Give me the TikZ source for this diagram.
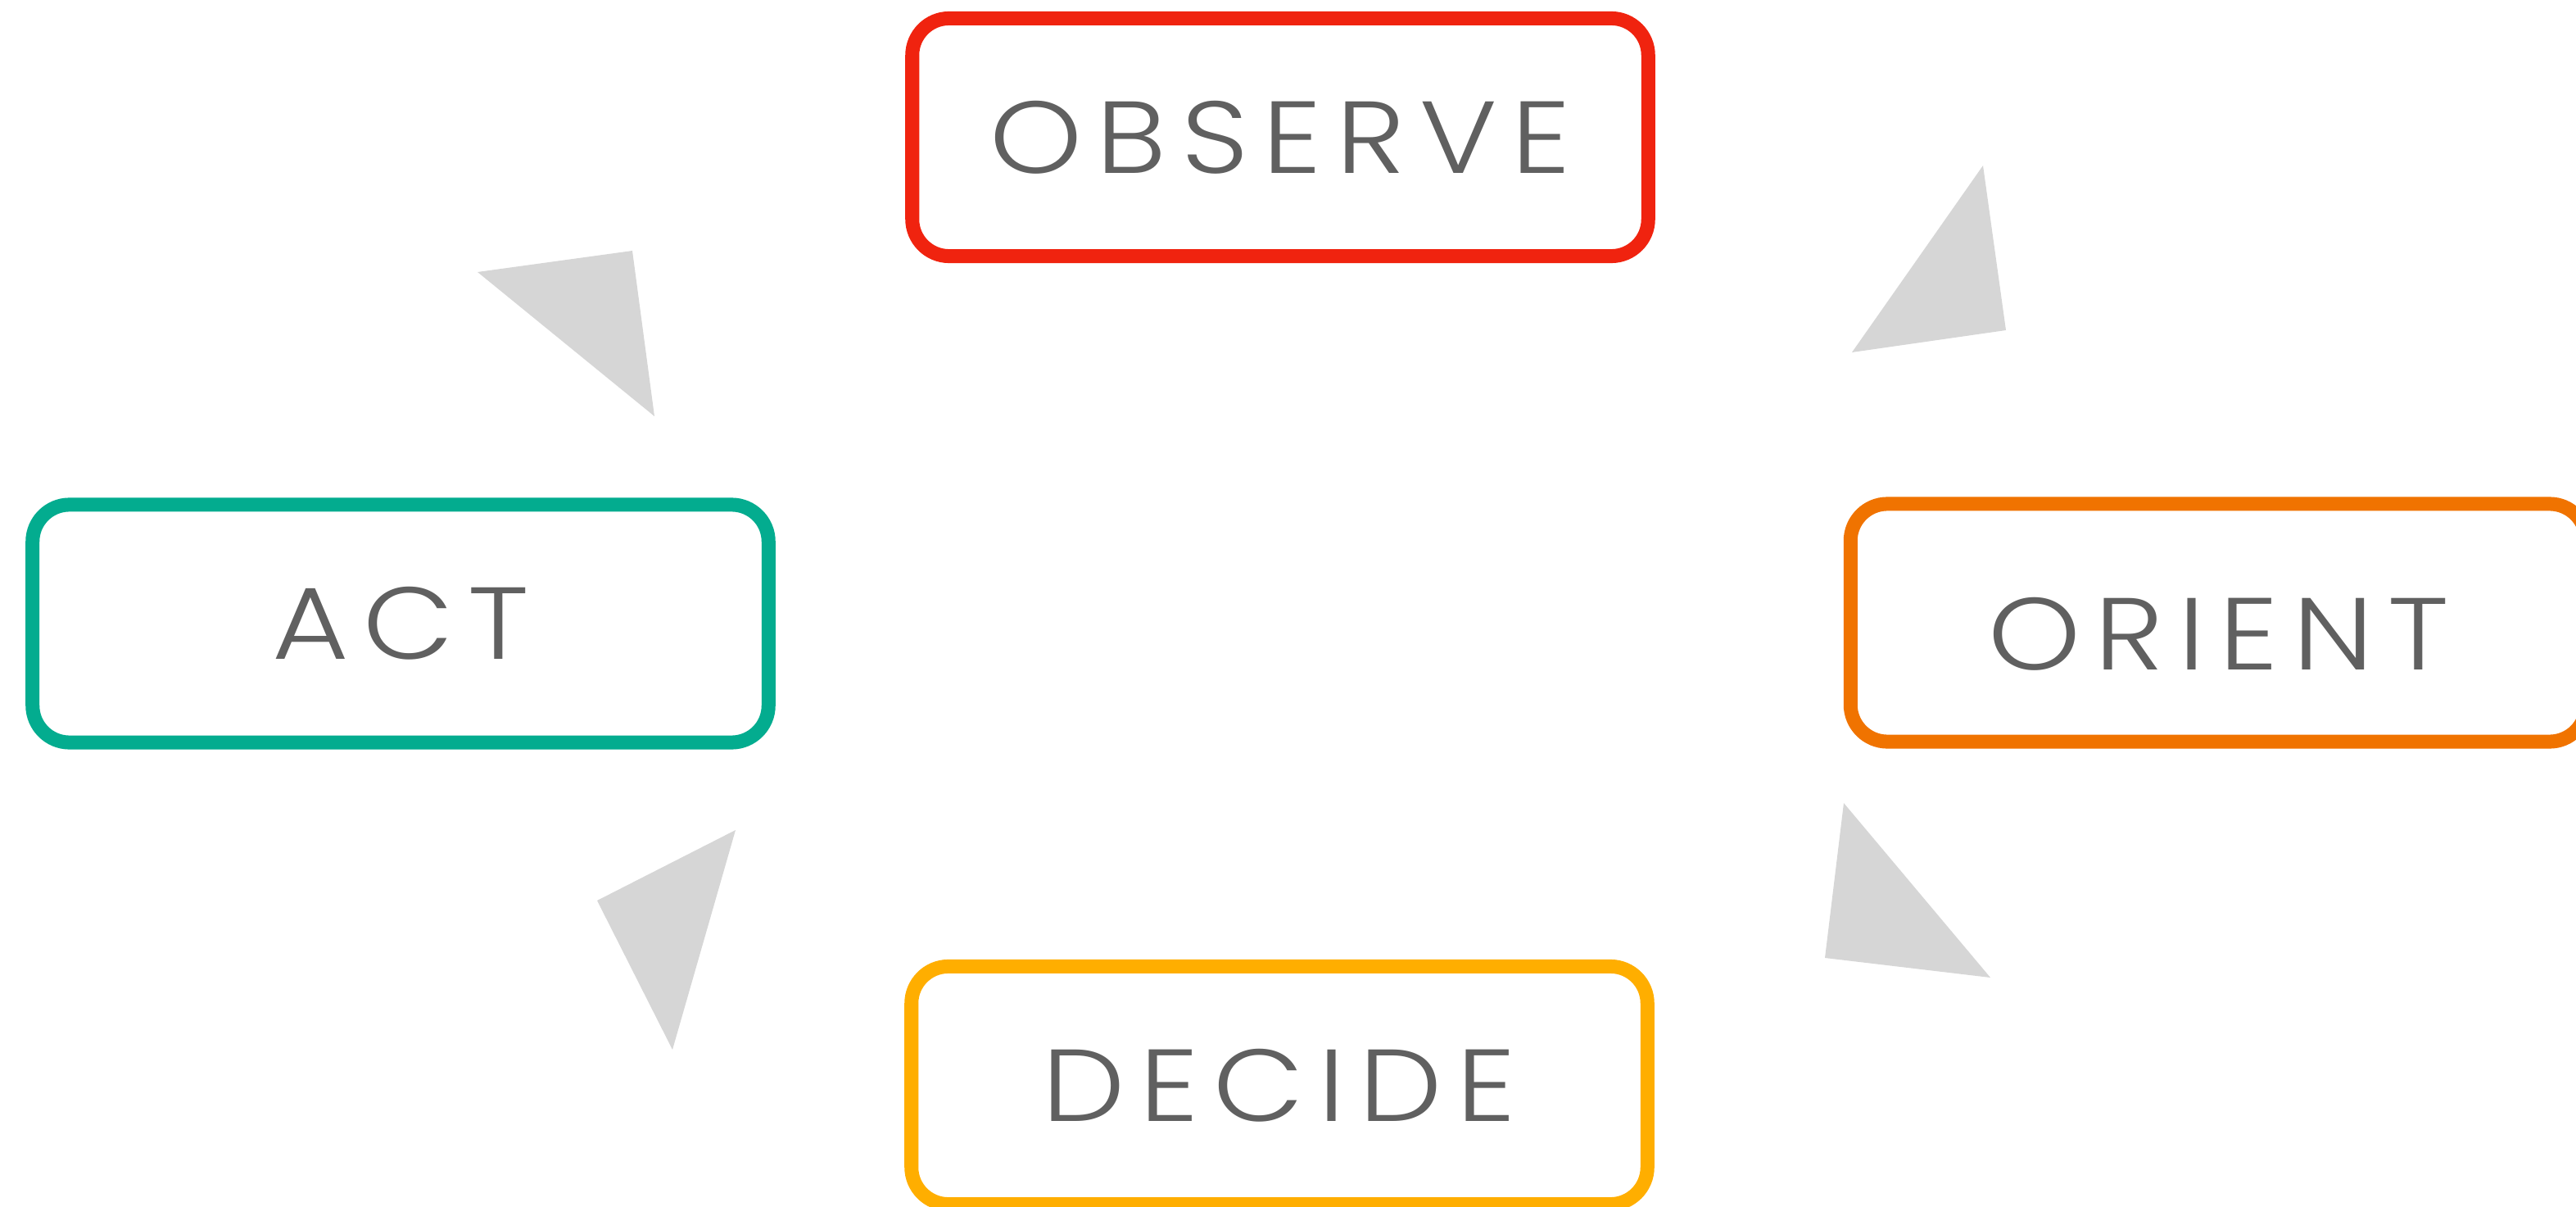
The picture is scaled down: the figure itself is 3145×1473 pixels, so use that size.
\documentclass[tikz,border=0pt]{standalone}
\usepackage{fontspec}
\IfFontExistsTF{Poppins Light}
  {\newfontfamily\stagefont[FakeStretch=1.15, LetterSpace=14]{Poppins Light}}
  {\newfontfamily\stagefont[FakeStretch=1.15, LetterSpace=14]{Poppins}}
\usetikzlibrary{positioning}
\definecolor{observe}{HTML}{F0230F}
\definecolor{orient}{HTML}{F07300}
\definecolor{decide}{HTML}{FFAE00}
\definecolor{act}{HTML}{03AC8F}
\definecolor{stagetext}{HTML}{606060}
\definecolor{pointergray}{HTML}{D6D6D6}

\begin{document}
\begin{tikzpicture}[
    x=0.01cm, y=-0.01cm,
    stage/.style={rectangle, rounded corners=0.45cm, line width=0.17cm, fill=white,
                  minimum width=8.98cm, minimum height=2.90cm, inner sep=0pt,
                  font=\stagefont\fontsize{35.5}{40}\selectfont, text=stagetext},
    lowtext/.style={text height=1.15cm, text depth=0pt},
    pointer/.style={fill=pointergray, draw=none},
]

% ── Canvas (1 unit = 1px of the original) ──
\useasboundingbox (0,0) rectangle (3145,1473);

% ── The four stages ──
\node[stage, draw=observe] (observe) at (1563,167.5) {OBSERVE};
\node[stage, draw=orient, lowtext] (orient) at (2708.5,760) {ORIENT};
\node[stage, draw=decide]  (decide)  at (1562,1324.5) {DECIDE};
\node[stage, draw=act]     (act)     at (489,761) {ACT};

% ── Grey pointers between the stages ──
\fill[pointer] (583,332) -- (772,306) -- (799,508) -- cycle;    % act -> observe
\fill[pointer] (2421,202) -- (2449,403) -- (2261,430) -- cycle; % observe -> orient
\fill[pointer] (2251,980) -- (2430,1193) -- (2228,1169) -- cycle; % orient -> decide
\fill[pointer] (898,1013) -- (729,1099) -- (821,1281) -- cycle; % decide -> act

\end{tikzpicture}
\end{document}
